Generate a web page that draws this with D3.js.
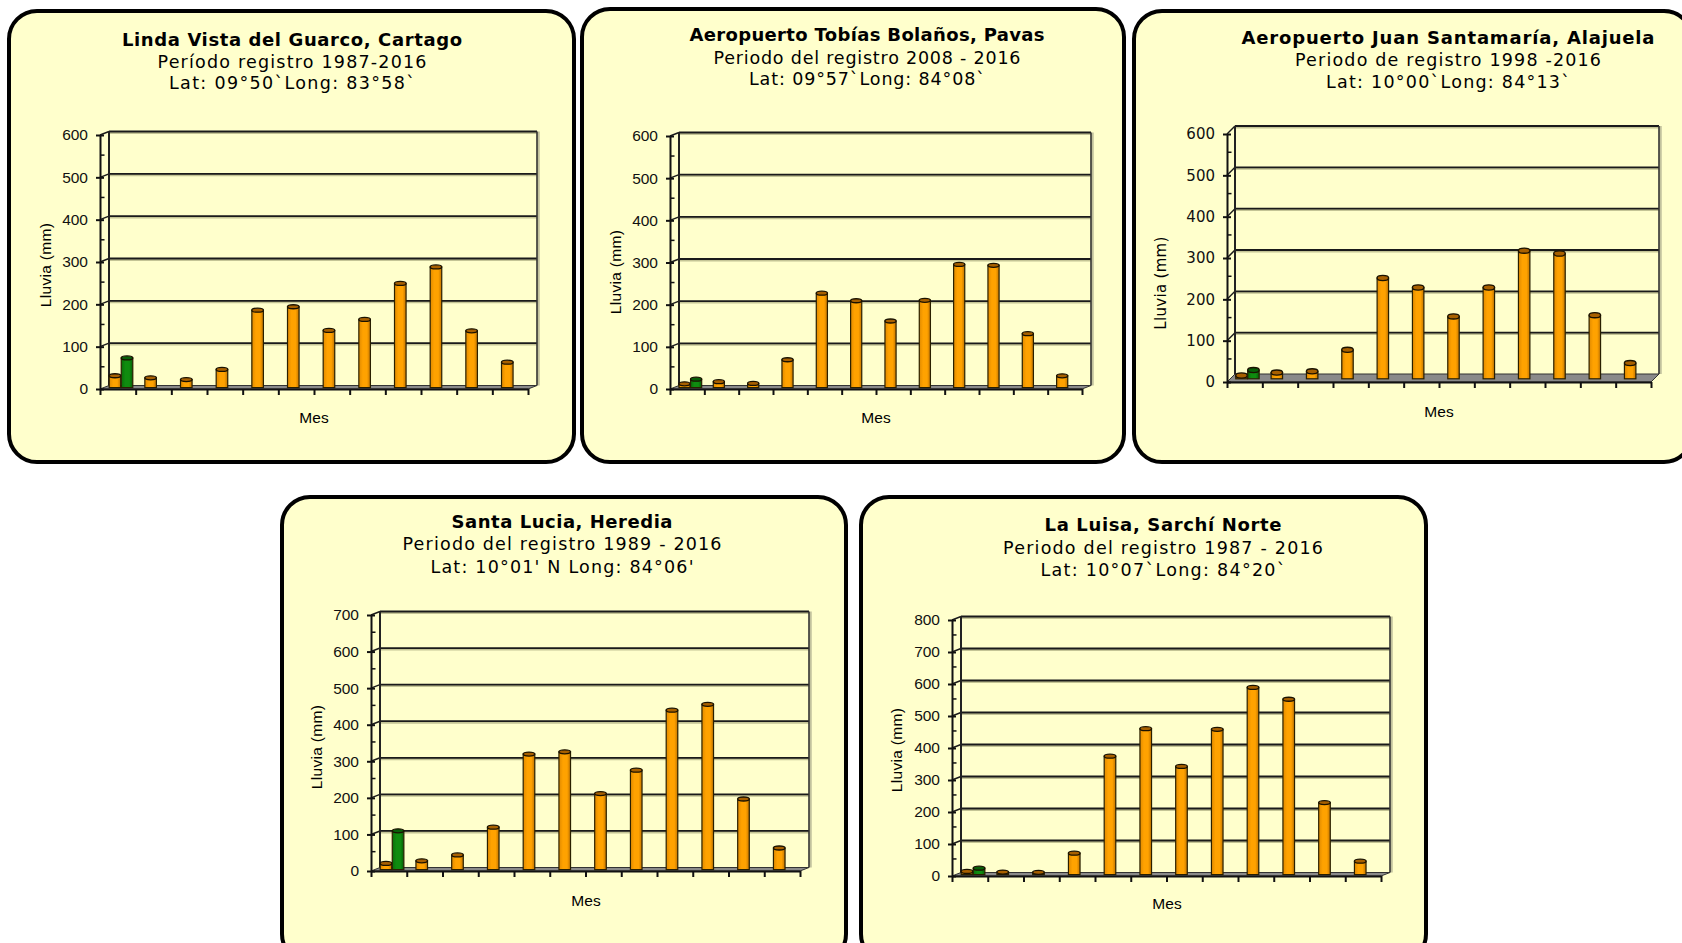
<!DOCTYPE html>
<html>
<head>
<meta charset="utf-8">
<script src="https://cdn.jsdelivr.net/npm/d3@7"></script>
<style>
body { margin: 0; background: #ffffff; }
svg { display: block; }
</style>
</head>
<body>
<script>
// meses (eje x sin etiquetas)
let meses = ["Ene", "Feb", "Mar", "Abr", "May", "Jun", "Jul", "Ago", "Set", "Oct", "Nov", "Dic"];

let titulos = ["Linda Vista del Guarco, Cartago", "Aeropuerto Tobías Bolaños, Pavas", "Aeropuerto Juan Santamaría, Alajuela",
               "Santa Lucia, Heredia", "La Luisa, Sarchí Norte"];
let periodos = ["Período registro 1987-2016", "Periodo del registro 2008 - 2016", "Periodo de registro 1998 -2016",
                "Periodo del registro 1989 - 2016", "Periodo del registro 1987 - 2016"];
let coordenadas = ["Lat: 09°50`Long: 83°58`", "Lat: 09°57`Long: 84°08`", "Lat: 10°00`Long: 84°13`",
                   "Lat: 10°01' N Long: 84°06'", "Lat: 10°07`Long: 84°20`"];

// lluvia promedio mensual (mm), barras naranja
let lindaVista     = [28, 23, 19, 43, 183, 191, 135, 161, 246, 285, 134, 60];
let tobiasBolanos  = [9, 14, 10, 66, 224, 206, 158, 207, 292, 290, 128, 28];
let juanSantamaria = [8, 15, 18, 70, 244, 221, 151, 221, 310, 303, 154, 38];
let santaLucia     = [17, 24, 40, 116, 316, 322, 208, 272, 436, 452, 193, 59];
let laLuisa        = [10, 8, 7, 67, 370, 456, 338, 454, 585, 548, 225, 42];

// barra verde, solo enero (una por estacion)
let eneroVerde = [70, 20, 21, 106, 20];

let maximos = [600, 600, 600, 700, 800];

let series = [lindaVista, tobiasBolanos, juanSantamaria, santaLucia, laLuisa];

// geometria de cada panel (anchos de las tres lineas del titulo en tl)
let paneles = [
    {box:[9,11,574,462], cx:292, ty:[40,62,83], tl:[340,269,246], x0:100, x1:528, y0:389, yTop:135, d:[9,-3.5], mes:[314,418], lluvia:[46,265], estilo:1},
    {box:[582,9,1124,462], cx:867, ty:[35,58,79], tl:[355,307,236], x0:670, x1:1082, y0:389, yTop:136, d:[9,-3.5], mes:[876,418], lluvia:[616,272], estilo:1},
    {box:[1134,11,1692,462], cx:1448, ty:[38,60,82], tl:[413,306,244], x0:1227, x1:1651, y0:382, yTop:134, d:[8,-8], mes:[1439,412], lluvia:[1161,283], estilo:2},
    {box:[282,497,846,962], cx:562, ty:[522,544,567], tl:[221,319,263], x0:371, x1:800, y0:871, yTop:615, d:[9,-3.5], mes:[586,901], lluvia:[317,747], estilo:1},
    {box:[861,497,1426,962], cx:1163, ty:[525,548,570], tl:[237,320,245], x0:952, x1:1381, y0:876, yTop:620, d:[9,-3.5], mes:[1167,904], lluvia:[897,750], estilo:1}
];

let svg = d3.select('body').append('svg').attr('width', 1682).attr('height', 943);

let defs = svg.append('defs');
function gradiente(id, c0, c1, c2)
{
    let gr = defs.append('linearGradient').attr('id', id).attr('x1', '0').attr('x2', '1').attr('y1', '0').attr('y2', '0');
    gr.append('stop').attr('offset', '0%').attr('stop-color', c0);
    gr.append('stop').attr('offset', '35%').attr('stop-color', c1);
    gr.append('stop').attr('offset', '70%').attr('stop-color', c1);
    gr.append('stop').attr('offset', '100%').attr('stop-color', c2);
}
gradiente('naranja', '#e08a00', '#ffa200', '#c27400');
gradiente('verde', '#0a6e0a', '#0f8c0f', '#075a07');


function dibujarPanel(i)
{
    let p = paneles[i];
    let g = svg.append('g');
    let dx = p.d[0], dy = p.d[1];

    g.append('rect')
        .attr('x', p.box[0]).attr('y', p.box[1])
        .attr('width', p.box[2] - p.box[0]).attr('height', p.box[3] - p.box[1])
        .attr('rx', 28)
        .attr('fill', '#ffffcc').attr('stroke', '#000').attr('stroke-width', 4);

    let lineas = [titulos[i], periodos[i], coordenadas[i]];
    lineas.forEach((t, k) => {
        g.append('text')
            .attr('x', p.cx).attr('y', p.ty[k]).attr('dy', '0.36em')
            .attr('text-anchor', 'middle')
            .attr('font-family', 'DejaVu Sans')
            .attr('font-size', k == 0 ? 18 : 17.5)
            .attr('font-weight', k == 0 ? 'bold' : 'normal')
            .attr('textLength', p.tl[k]).attr('lengthAdjust', 'spacing')
            .attr('fill', '#000')
            .text(t);
    });

    let y = d3.scaleLinear().domain([0, maximos[i]]).range([p.y0, p.yTop]);
    let x = d3.scaleBand().domain(meses).range([p.x0, p.x1]);
    let xs = d3.scaleBand().domain(['prom', 'verde']).range([0, x.bandwidth()]).paddingInner(0.04).paddingOuter(0.5);
    let xl = d3.scaleLinear().domain([0, meses.length]).range([p.x0, p.x1]);

    let mayores = d3.range(0, maximos[i] + 1, 100);
    let menores = d3.range(50, maximos[i], 100);

    // piso
    g.append('path')
        .attr('d', `M${p.x0},${p.y0}L${p.x1},${p.y0}L${p.x1+dx},${p.y0+dy}L${p.x0+dx},${p.y0+dy}Z`)
        .attr('fill', '#8a8a8a').attr('stroke', '#333').attr('stroke-width', 1);

    // pared del fondo: rejilla
    let rejilla = mayores.filter(v => v > 0);
    g.selectAll('.sombra').data(rejilla).enter().append('line')
        .attr('x1', p.x0 + dx).attr('x2', p.x1 + dx)
        .attr('y1', v => y(v) + dy + 1.2).attr('y2', v => y(v) + dy + 1.2)
        .attr('stroke', '#8a8a60').attr('stroke-width', 2.5).attr('opacity', 0.5);
    g.selectAll('.rej').data(rejilla).enter().append('line')
        .attr('x1', p.x0 + dx).attr('x2', p.x1 + dx)
        .attr('y1', v => y(v) + dy).attr('y2', v => y(v) + dy)
        .attr('stroke', '#1a1a1a').attr('stroke-width', 1.8);
    g.selectAll('.diag').data(rejilla).enter().append('line')
        .attr('x1', p.x0).attr('x2', p.x0 + dx)
        .attr('y1', v => y(v)).attr('y2', v => y(v) + dy)
        .attr('stroke', '#1a1a1a').attr('stroke-width', 1.5);

    // bordes verticales de la pared
    g.append('line')
        .attr('x1', p.x0 + dx).attr('x2', p.x0 + dx)
        .attr('y1', y(maximos[i]) + dy).attr('y2', p.y0 + dy)
        .attr('stroke', '#222').attr('stroke-width', 2);
    g.append('line')
        .attr('x1', p.x1 + dx + 1.5).attr('x2', p.x1 + dx + 1.5)
        .attr('y1', y(maximos[i]) + dy).attr('y2', p.y0 + dy)
        .attr('stroke', '#9a9a80').attr('stroke-width', 2.5).attr('opacity', 0.6);
    g.append('line')
        .attr('x1', p.x1 + dx).attr('x2', p.x1 + dx)
        .attr('y1', y(maximos[i]) + dy).attr('y2', p.y0 + dy)
        .attr('stroke', '#333').attr('stroke-width', 1.6);

    // barras
    let datos = series[i].map((v, j) => ({mes: meses[j], serie: 'prom', v: v}));
    datos.push({mes: meses[0], serie: 'verde', v: eneroVerde[i]});

    let ox = dx * 0.35, oy = dy * 0.4;
    let bw = xs.bandwidth();
    let capRy = p.estilo == 2 ? 2.6 : 2.0;

    let barras = g.selectAll('.barra').data(datos).enter().append('g');
    barras.append('rect')
        .attr('x', d => x(d.mes) + xs(d.serie) + ox)
        .attr('y', d => y(d.v) + oy)
        .attr('width', bw)
        .attr('height', d => p.y0 - y(d.v))
        .attr('fill', d => d.serie == 'prom' ? 'url(#naranja)' : 'url(#verde)')
        .attr('stroke', '#2a2000').attr('stroke-width', 1.2);
    barras.append('ellipse')
        .attr('cx', d => x(d.mes) + xs(d.serie) + ox + bw / 2)
        .attr('cy', d => y(d.v) + oy)
        .attr('rx', bw / 2).attr('ry', capRy)
        .attr('fill', d => d.serie == 'prom' ? '#a86000' : '#085f08')
        .attr('stroke', '#1a1200').attr('stroke-width', 1.3);

    // eje y
    let fuenteTicks = p.estilo == 2 ? 'DejaVu Sans' : 'Liberation Sans';
    let ejeY = g.append('g')
        .attr('transform', `translate(${p.x0},0)`)
        .call(d3.axisLeft(y).tickValues(mayores).tickSize(4).tickSizeOuter(0).tickPadding(8));
    ejeY.select('.domain').attr('stroke', '#111').attr('stroke-width', 2);
    ejeY.selectAll('.tick line').attr('stroke', '#111').attr('stroke-width', 2).attr('x2', -4).attr('x1', 4);
    ejeY.selectAll('.tick text')
        .attr('font-family', fuenteTicks).attr('font-size', p.estilo == 2 ? 15 : 15.5).attr('fill', '#111');

    g.selectAll('.menor').data(menores).enter().append('line')
        .attr('x1', p.x0 + 1).attr('x2', p.x0 + 4.5)
        .attr('y1', v => y(v) + dy * 0.3).attr('y2', v => y(v) + dy * 0.3)
        .attr('stroke', '#111').attr('stroke-width', 1.5);

    // eje x
    let ejeX = g.append('g')
        .attr('transform', `translate(0,${p.y0})`)
        .call(d3.axisBottom(xl).tickValues(d3.range(meses.length + 1)).tickFormat('').tickSize(6).tickSizeOuter(0));
    ejeX.select('.domain').attr('stroke', '#111').attr('stroke-width', 2);
    ejeX.selectAll('.tick line').attr('stroke', '#111').attr('stroke-width', 2);

    // titulos de los ejes
    g.append('text')
        .attr('x', p.mes[0]).attr('y', p.mes[1]).attr('dy', '0.35em')
        .attr('text-anchor', 'middle')
        .attr('font-family', 'Liberation Sans').attr('font-size', 15.5)
        .text('Mes');
    g.append('text')
        .attr('transform', `translate(${p.lluvia[0]},${p.lluvia[1]}) rotate(-90)`)
        .attr('dy', '0.35em')
        .attr('text-anchor', 'middle')
        .attr('font-family', p.estilo == 2 ? 'DejaVu Sans' : 'Liberation Sans').attr('font-size', p.estilo == 2 ? 15 : 15.5)
        .attr('letter-spacing', 0.3)
        .text('Lluvia (mm)');
}

for (let i = 0; i < paneles.length; ++i)
    dibujarPanel(i);
</script>
</body>
</html>
